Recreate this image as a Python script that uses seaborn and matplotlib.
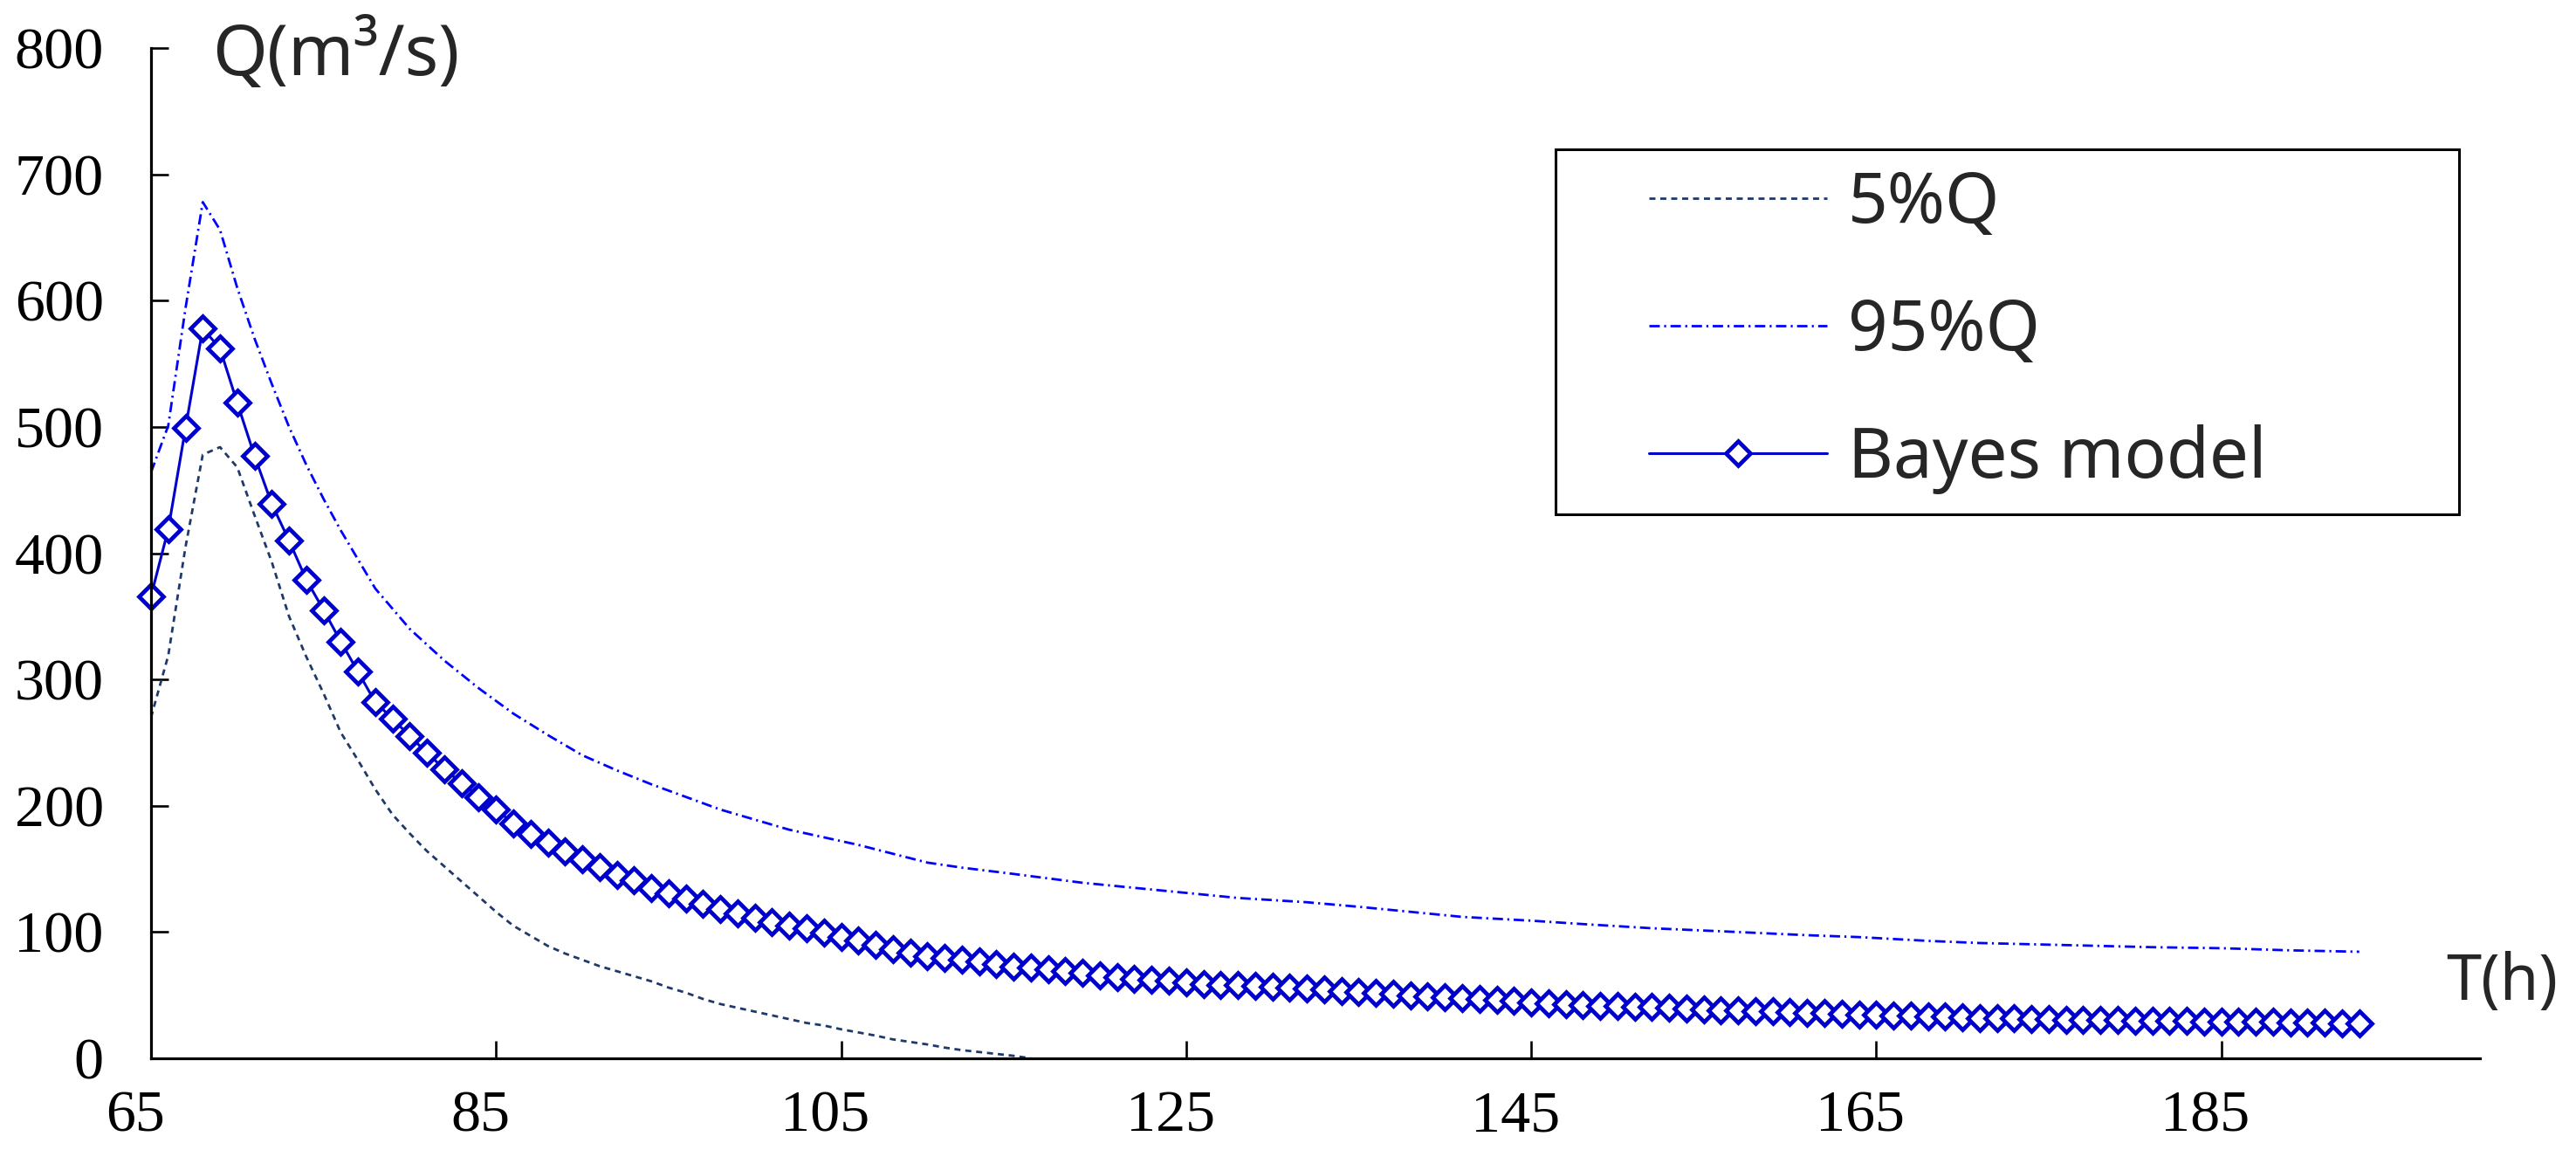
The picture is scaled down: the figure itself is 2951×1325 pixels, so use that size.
import numpy as np
import pandas as pd
import seaborn as sns
import matplotlib
matplotlib.use("Agg")
import matplotlib.pyplot as plt
from matplotlib.patches import Rectangle
from matplotlib.transforms import ScaledTranslation

# ---------------- data ----------------
t_bayes = list(range(65, 194))
q_bayes = [366, 419, 499, 578, 562, 519, 477, 439, 410, 379,
           355, 330, 306, 282, 269, 255, 242, 229, 218, 207,
           197, 186, 178, 171, 164, 157.5, 151.5, 145.5, 141, 135,
           130.5, 126.5, 122.5, 118, 114.5, 111, 108, 105, 102.8, 99.4,
           96, 93, 90, 86.5, 83.5, 81, 79.5, 78, 76.5, 74.7,
           72.8, 71.7, 70.6, 69, 67.6, 66, 64.5, 63.2, 62.3, 61.2,
           60.2, 59, 58.3, 57.8, 57.1, 56.6, 56, 55.3, 54.3, 53.5,
           52.6, 51.8, 51, 50, 49.3, 48.6, 47.6, 47, 46.3, 45.3,
           44.5, 43.7, 43, 42.4, 41.8, 41.3, 40.9, 40.5, 40, 39.4,
           38.8, 38.3, 37.8, 37.4, 37.1, 36.7, 36.2, 35.9, 35.4, 34.9,
           34.4, 34.1, 33.7, 33.3, 33, 32.6, 32.1, 31.8, 31.5, 31.3,
           30.9, 30.7, 30.5, 30.2, 30.1, 29.8, 29.7, 29.5, 29.4, 29.2,
           29.0, 28.9, 28.8, 28.7, 28.6, 28.4, 28.3, 28.0, 27.9]

t_95 = [65, 66, 67, 68, 69, 70, 71, 72, 73, 74, 75, 76, 77, 78, 80, 82,
        84, 86, 88, 90, 92, 94, 96, 98, 100, 102, 104, 106, 108, 110,
        112, 115, 119, 122, 125, 128, 132, 135, 138, 141, 145, 148, 152,
        157, 161, 164, 168, 171, 175, 178, 181, 185, 189, 193]
q_95 = [464, 501, 594, 678, 656, 610, 570, 534, 500, 470, 443, 418, 395,
        372, 340, 315, 293, 273, 256, 240, 228, 217, 207, 197, 189, 181,
        175, 169, 162, 155, 151, 146, 139, 135, 131, 127, 123.6, 120, 116,
        112, 109, 106.3, 103, 100, 97.5, 96, 93, 91.3, 90, 89, 88, 87.2,
        85.5, 84.4]

t_05 = list(range(65, 117))
q_05 = [270, 319, 405, 478, 484, 468, 430, 393, 350, 318,
        289, 258, 236, 213, 193, 178, 164, 152, 140, 128,
        116, 105, 97, 89, 83, 78, 73, 69, 65, 61,
        56, 52, 47, 43, 40, 37, 34, 31, 28, 26,
        23, 20.5, 18, 15, 13, 11, 8.5, 6.5, 5, 3.5,
        2, 0]

x_ticks = [65, 85, 105, 125, 145, 165, 185]
y_ticks = [0, 100, 200, 300, 400, 500, 600, 700, 800]
labels = ["5%Q", "95%Q", "Bayes model"]

df_b = pd.DataFrame({"T": t_bayes, "Q": q_bayes})
df_95 = pd.DataFrame({"T": t_95, "Q": q_95})
df_05 = pd.DataFrame({"T": t_05, "Q": q_05})

# ---------------- figure ----------------
sns.set_style("ticks")
plt.rcParams["font.family"] = ["Liberation Serif", "DejaVu Serif"]

W, H = 2951, 1325
fig = plt.figure(figsize=(W / 100, H / 100), dpi=100)
ax = fig.add_axes([173 / W, 1 - 1212 / H, (2841 - 173) / W, (1212 - 55) / H])

c05 = "#1F3A68"
c95 = "#0000FF"
cb = "#0000CC"

sns.lineplot(data=df_05, x="T", y="Q", ax=ax, color=c05, linewidth=2.0,
             linestyle=(0, (2.5, 2.0)), label=labels[0])
sns.lineplot(data=df_95, x="T", y="Q", ax=ax, color=c95, linewidth=2.0,
             linestyle=(0, (4.3, 1.8, 0.8, 1.8)), label=labels[1])
sns.lineplot(data=df_b, x="T", y="Q", ax=ax, color=cb, linewidth=2.2,
             marker="D", markersize=14.2, markerfacecolor="white",
             markeredgecolor=cb, markeredgewidth=3.4, label=labels[2],
             clip_on=False)

ax.set_xlim(65, 200)
ax.set_ylim(0, 800)
ax.set_xticks(x_ticks)
ax.set_yticks(y_ticks)
ax.set_xlabel("")
ax.set_ylabel("")

for s in ["top", "right"]:
    ax.spines[s].set_visible(False)
for s in ["left", "bottom"]:
    ax.spines[s].set_linewidth(2.3)
    ax.spines[s].set_color("black")

ax.tick_params(axis="both", direction="in", length=14.5, width=1.9,
               colors="black", labelsize=49)
ax.tick_params(axis="y", pad=39)
ax.tick_params(axis="x", pad=26)
for lab in ax.get_xticklabels() + ax.get_yticklabels():
    lab.set_fontfamily(["Liberation Serif", "DejaVu Serif"])
offset = ScaledTranslation(-18 / 100, 0, fig.dpi_scale_trans)
for lab in ax.get_xticklabels():
    lab.set_transform(lab.get_transform() + offset)

# axis titles
fig.text(243 / W, 1 - 86 / H, "Q(m³/s)", fontsize=58,
         family=["Noto Sans", "DejaVu Sans"], va="baseline", ha="left")
fig.text(2802 / W, 1 - 1145 / H, "T(h)", fontsize=52,
         family=["Noto Sans", "DejaVu Sans"], va="baseline", ha="left")

# legend
handles = ax.get_lines()[:3]
leg = ax.legend(handles, labels, loc="center left",
                bbox_to_anchor=(1849 / W, 1 - 380 / H),
                bbox_transform=fig.transFigure, frameon=False,
                prop={"family": ["Noto Sans", "DejaVu Sans"], "size": 57.5},
                handlelength=2.55, handletextpad=0.3, borderpad=0,
                labelspacing=0.83, numpoints=1)
fig.add_artist(Rectangle((1782 / W, 1 - 589 / H), (2817 - 1782) / W,
                         (589 - 171) / H, transform=fig.transFigure,
                         fill=False, lw=2.2, ec="black"))

fig.savefig("out.png", dpi=100, facecolor="white")
